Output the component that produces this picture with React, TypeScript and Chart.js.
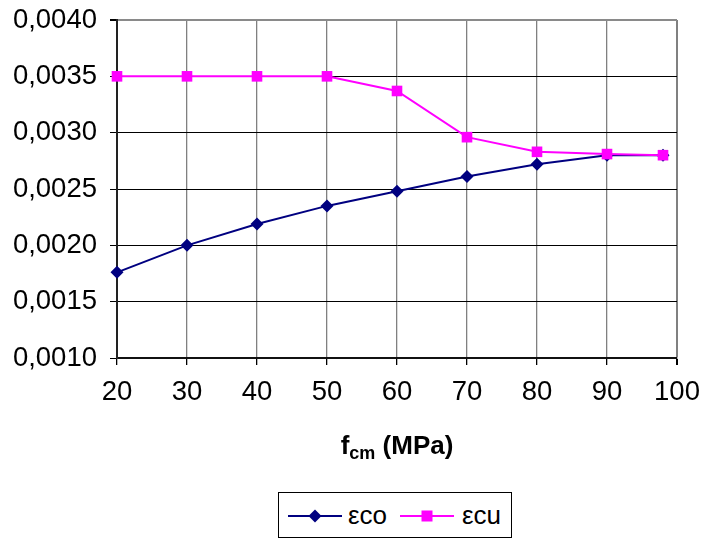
import React, { useEffect, useRef } from "react";
import { Chart, registerables } from "chart.js";

Chart.register(...registerables);

// Concrete compressive strength f_cm (MPa)
const fcm = [20, 30, 40, 50, 60, 70, 80, 90, 98];
// Strain at peak stress
const epsCo = [0.00176, 0.002, 0.00219, 0.00235, 0.00248, 0.00261, 0.00272, 0.0028, 0.0028];
// Ultimate strain
const epsCu = [0.0035, 0.0035, 0.0035, 0.0035, 0.00337, 0.00296, 0.00283, 0.00281, 0.0028];

const xMin = 20;
const xMax = 100;
const xStep = 10;
const yMin = 0.001;
const yMax = 0.004;
const yStep = 0.0005;

const FONT = "'Liberation Sans', Arial, Helvetica, sans-serif";
const NAVY = "#000080";
const MAGENTA = "#FF00FF";

const formatStrain = (v: number) => v.toFixed(4).replace(".", ",");

export default function App() {
  const canvasRef = useRef<HTMLCanvasElement | null>(null);

  useEffect(() => {
    const canvas = canvasRef.current;
    if (!canvas) return;
    const chart = new Chart(canvas, {
      type: "line",
      data: {
        datasets: [
          {
            label: "εco",
            data: fcm.map((x, i) => ({ x, y: epsCo[i] })),
            borderColor: NAVY,
            backgroundColor: NAVY,
            borderWidth: 2,
            pointStyle: "rectRot",
            pointRadius: 6.5,
            pointBorderWidth: 0,
            pointBackgroundColor: NAVY,
            tension: 0,
            clip: false,
            order: 1,
          },
          {
            label: "εcu",
            data: fcm.map((x, i) => ({ x, y: epsCu[i] })),
            borderColor: MAGENTA,
            backgroundColor: MAGENTA,
            borderWidth: 2,
            pointStyle: "rect",
            pointRadius: 7.5,
            pointBorderWidth: 0,
            pointBackgroundColor: MAGENTA,
            tension: 0,
            clip: false,
            order: 0,
          },
        ],
      },
      options: {
        responsive: false,
        animation: false,
        events: [],
        layout: { padding: { left: 0, top: 20, right: 24, bottom: 0 } },
        plugins: {
          legend: { display: false },
          tooltip: { enabled: false },
          title: { display: false },
        },
        scales: {
          x: {
            type: "linear",
            min: xMin,
            max: xMax,
            afterFit: (s: any) => {
              s.height = 181;
              s.paddingLeft = 0;
              s.paddingRight = 0;
            },
            ticks: {
              stepSize: xStep,
              color: "#000",
              padding: 11,
              maxRotation: 0,
              font: { family: FONT, size: 27.5 },
            },
            grid: {
              color: () => "#808080",
              lineWidth: (ctx: any) => (ctx.tick && ctx.tick.value === xMax ? 2 : 1.3),
              tickColor: "#000",
              tickLength: 7,
            },
            border: { color: "#111", width: 2 },
          },
          y: {
            type: "linear",
            min: yMin,
            max: yMax,
            afterFit: (s: any) => {
              s.width = 117;
              s.paddingTop = 0;
              s.paddingBottom = 0;
            },
            ticks: {
              stepSize: yStep,
              color: "#000",
              padding: 13,
              font: { family: FONT, size: 27.5 },
              callback: (v: any) => formatStrain(Number(v)),
            },
            grid: {
              color: (ctx: any) =>
                ctx.tick && Math.abs(ctx.tick.value - yMax) < 1e-9 ? "#8a8a8a" : "#000",
              lineWidth: (ctx: any) =>
                ctx.tick && Math.abs(ctx.tick.value - yMax) < 1e-9 ? 2 : 1,
              tickColor: "#000",
              tickLength: 7,
            },
            border: { color: "#222", width: 2 },
          },
        },
      },
    } as any);
    return () => chart.destroy();
  }, []);

  const legendText: React.CSSProperties = {
    position: "absolute",
    top: 0,
    height: 44,
    lineHeight: "44px",
    fontFamily: FONT,
    fontSize: 26,
    color: "#000",
  };

  return (
    <div
      style={{
        position: "fixed",
        left: 0,
        top: 0,
        width: 701,
        height: 539,
        background: "#fff",
        overflow: "hidden",
      }}
    >
      <canvas
        ref={canvasRef}
        width={701}
        height={539}
        style={{ position: "absolute", left: 0, top: 0, width: 701, height: 539 }}
      />
      <div
        style={{
          position: "absolute",
          left: 117,
          width: 560,
          top: 428,
          textAlign: "center",
          fontFamily: FONT,
          fontWeight: "bold",
          fontSize: 26,
          color: "#000",
          lineHeight: "34px",
        }}
      >
        f<sub style={{ fontSize: 18, verticalAlign: "-5px", lineHeight: 0 }}>cm</sub> (MPa)
      </div>
      <div
        style={{
          position: "absolute",
          left: 278,
          top: 492,
          width: 234,
          height: 46,
          boxSizing: "border-box",
          border: "1px solid #000",
          background: "#fff",
        }}
      >
        <svg
          width={54}
          height={16}
          style={{ position: "absolute", left: 9, top: 15 }}
        >
          <line x1={0} y1={8} x2={54} y2={8} stroke={NAVY} strokeWidth={2} />
          <polygon points="27,1.5 33.5,8 27,14.5 20.5,8" fill={NAVY} />
        </svg>
        <div style={{ ...legendText, left: 69 }}>εco</div>
        <svg
          width={54}
          height={16}
          style={{ position: "absolute", left: 121, top: 15 }}
        >
          <line x1={0} y1={8} x2={54} y2={8} stroke={MAGENTA} strokeWidth={2} />
          <rect x={21.5} y={2.5} width={11} height={11} fill={MAGENTA} />
        </svg>
        <div style={{ ...legendText, left: 183 }}>εcu</div>
      </div>
    </div>
  );
}
